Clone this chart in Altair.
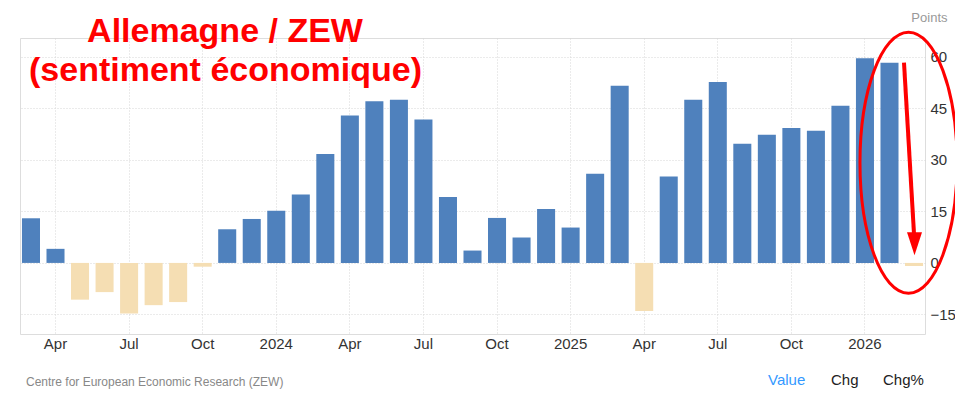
import altair as alt
import pandas as pd

# ---------------- data ----------------
MONTHS = [
    "2023-03", "2023-04", "2023-05", "2023-06", "2023-07", "2023-08", "2023-09",
    "2023-10", "2023-11", "2023-12",
    "2024-01", "2024-02", "2024-03", "2024-04", "2024-05", "2024-06", "2024-07",
    "2024-08", "2024-09", "2024-10", "2024-11", "2024-12",
    "2025-01", "2025-02", "2025-03", "2025-04", "2025-05", "2025-06", "2025-07",
    "2025-08", "2025-09", "2025-10", "2025-11", "2025-12",
    "2026-01", "2026-02", "2026-03",
]
VALUES = [
    13.0, 4.1, -10.7, -8.5, -14.7, -12.3, -11.4, -1.1, 9.8, 12.8,
    15.2, 19.9, 31.7, 42.9, 47.1, 47.5, 41.8, 19.2, 3.6, 13.1, 7.4, 15.7,
    10.3, 26.0, 51.6, -14.0, 25.2, 47.5, 52.7, 34.7, 37.3, 39.3, 38.5, 45.8,
    59.6, 58.3, -0.9,
]
TICK_MONTHS = ["2023-04", "2023-07", "2023-10", "2024-01", "2024-04", "2024-07",
               "2024-10", "2025-01", "2025-04", "2025-07", "2025-10", "2026-01"]
TICK_LABELS = ["Apr", "Jul", "Oct", "2024", "Apr", "Jul", "Oct", "2025",
               "Apr", "Jul", "Oct", "2026"]
Y_TICKS = [-15, 0, 15, 30, 45, 60]

TITLE_LINES = ["Allemagne / ZEW", "(sentiment économique)"]
SOURCE = "Centre for European Economic Research (ZEW)"
BUTTONS = ["Value", "Chg", "Chg%"]

# annotation anchors (data space)
ARROW_FROM = ["2026-02"]
ARROW_TO = ["2026-03"]
ARROW_Y0 = [58.3]
ARROW_Y1 = [8.4]
HEAD_MONTH = ["2026-03"]
HEAD_Y = [5.6]
ELLIPSE_MONTH = ["2026-03"]
ELLIPSE_Y = [29.2]

BLUE = "#4f81bd"
WHEAT = "#f5deb3"
RED = "#ff0000"
FONT = "Liberation Sans"

df = pd.DataFrame({"month": MONTHS, "value": VALUES})

label_expr = "''"
for m, lab in reversed(list(zip(TICK_MONTHS, TICK_LABELS))):
    label_expr = f"datum.value == '{m}' ? '{lab}' : ({label_expr})"

x_scale = alt.Scale(paddingInner=0.265, paddingOuter=0.08)
y_scale = alt.Scale(domain=[-20.7, 65.5], nice=False, zero=False)

x_axis = alt.Axis(
    values=TICK_MONTHS, labelExpr=label_expr, title=None, labelAngle=0,
    ticks=False, domain=False, grid=True, gridDash=[1, 2], gridColor="#d6d6d6",
    labelFontSize=15, labelColor="#333333", labelFont=FONT, labelPadding=2,
    bandPosition=0.5,
)
y_axis = alt.Axis(
    orient="right", values=Y_TICKS, ticks=False, domain=False, grid=True,
    gridDash=[1, 2], gridColor="#d6d6d6", labelFontSize=15, labelColor="#333333",
    labelFont=FONT, labelPadding=5, labelAlign="left",
    title="Points", titleAngle=0, titleX=22, titleY=-21, titleAlign="right",
    titleBaseline="middle", titleColor="#999999", titleFontSize=13,
    titleFontWeight="normal", titleFont=FONT,
)

bars = alt.Chart(df).mark_bar().encode(
    x=alt.X("month:N", sort=MONTHS, scale=x_scale, axis=x_axis),
    y=alt.Y("value:Q", scale=y_scale, axis=y_axis),
    color=alt.condition(alt.datum.value > 0, alt.value(BLUE), alt.value(WHEAT)),
)

# red ellipse
k = 0.5523
a = 0.372
ELLIPSE_PATH = (
    f"M 0 -1 C {k*a:.4f} -1 {a} -{k} {a} 0 "
    f"C {a} {k} {k*a:.4f} 1 0 1 "
    f"C -{k*a:.4f} 1 -{a} {k} -{a} 0 "
    f"C -{a} -{k} -{k*a:.4f} -1 0 -1 Z"
)
ell_df = pd.DataFrame({"month": ELLIPSE_MONTH, "y": ELLIPSE_Y})
ellipse = alt.Chart(ell_df).mark_point(
    shape=ELLIPSE_PATH, size=68121, filled=False, stroke=RED, strokeWidth=3,
    opacity=1, xOffset=-5.5,
).encode(
    x=alt.X("month:N", sort=MONTHS),
    y=alt.Y("y:Q"),
)

arrow_df = pd.DataFrame({"m0": ARROW_FROM, "m1": ARROW_TO, "y0": ARROW_Y0, "y1": ARROW_Y1})
arrow = alt.Chart(arrow_df).mark_rule(
    color=RED, strokeWidth=4, xOffset=14.5, x2Offset=0,
).encode(
    x=alt.X("m0:N", sort=MONTHS),
    x2=alt.X2("m1"),
    y=alt.Y("y0:Q"),
    y2=alt.Y2("y1"),
)

TRI_PATH = "M -0.652 -1 L 0.652 -1 L 0 1 Z"
head_df = pd.DataFrame({"month": HEAD_MONTH, "y": HEAD_Y})
head = alt.Chart(head_df).mark_point(
    shape=TRI_PATH, size=529, filled=True, fill=RED, strokeWidth=0, opacity=1,
    xOffset=0.5,
).encode(
    x=alt.X("month:N", sort=MONTHS),
    y=alt.Y("y:Q"),
)

# title text
t1 = alt.Chart(pd.DataFrame({"t": [TITLE_LINES[0]]})).mark_text(
    font=FONT, fontSize=34, fontWeight="bold", color=RED, align="center",
    baseline="alphabetic",
).encode(text="t:N", x=alt.value(205), y=alt.value(4))
t2 = alt.Chart(pd.DataFrame({"t": [TITLE_LINES[1]]})).mark_text(
    font=FONT, fontSize=34, fontWeight="bold", color=RED, align="center",
    baseline="alphabetic",
).encode(text="t:N", x=alt.value(205.5), y=alt.value(43))

src = alt.Chart(pd.DataFrame({"t": [SOURCE]})).mark_text(
    font=FONT, fontSize=12, color="#888888", align="left", baseline="alphabetic",
).encode(text="t:N", x=alt.value(6), y=alt.value(348))

btn_layers = []
for txt, xpos, col in zip(BUTTONS, [748, 811, 863], ["#3399ff", "#222222", "#222222"]):
    btn_layers.append(
        alt.Chart(pd.DataFrame({"t": [txt]})).mark_text(
            font=FONT, fontSize=15, color=col, align="left", baseline="alphabetic",
        ).encode(text="t:N", x=alt.value(xpos), y=alt.value(347))
    )

chart = alt.layer(
    bars, ellipse, arrow, head, t1, t2, src, *btn_layers
).properties(
    width=905, height=296,
    autosize=alt.AutoSizeParams(type="none"),
    padding={"left": 12, "top": 30, "right": 30, "bottom": 60},
).configure_view(
    stroke="#e3e3e3", strokeWidth=1,
).configure(
    background="white",
)

chart.save("out.html", embed_options={"renderer": "svg", "actions": False})
